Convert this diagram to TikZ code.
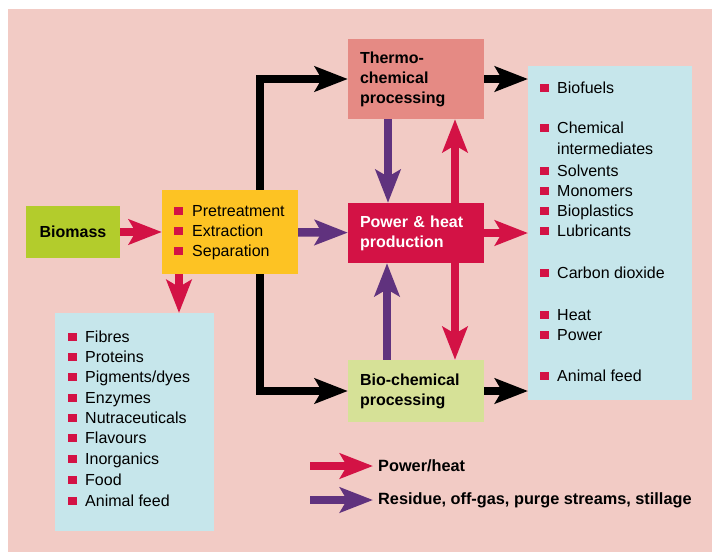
\documentclass[tikz,border=0pt]{standalone}
\usepackage{fontspec}
\setmainfont{Liberation Sans}
\usetikzlibrary{positioning,calc,arrows.meta}
\definecolor{bgpink}{HTML}{F2CBC5}
\definecolor{crim}{HTML}{D31245}
\definecolor{purp}{HTML}{60327E}
\definecolor{biogreen}{HTML}{B3CC2C}
\definecolor{preorange}{HTML}{FDC323}
\definecolor{salmon}{HTML}{E58A84}
\definecolor{palegreen}{HTML}{D6E197}
\definecolor{paleblue}{HTML}{C6E6EB}
\tikzset{
  box/.style  ={rectangle, draw=none, inner sep=0pt, font=\fontsize{16}{20}\selectfont\bfseries},
  proc/.style ={box, minimum width=136pt, text width=112pt, align=left},
  lst/.style  ={rectangle, draw=none, inner sep=0pt, anchor=north west},
  item/.style ={anchor=west, inner sep=0pt, text height=11.5pt, text depth=0pt, font=\fontsize{16}{20}\selectfont},
  bul/.style  ={rectangle, fill=crim, minimum size=8.5pt, inner sep=0pt},
  fl/.style   ={line width=8.5pt, -{Stealth[length=33pt, width=25pt, inset=7pt]}},
  fr/.style   ={fl, draw=crim},
  fp/.style   ={fl, draw=purp},
  fb/.style   ={fl, draw=black},
  lgl/.style  ={anchor=west, inner sep=5pt, font=\fontsize{16.3}{20}\selectfont\bfseries},
}

\begin{document}
\begin{tikzpicture}[x=1pt, y=-1pt]
\useasboundingbox (0,0) rectangle (712,552);
\fill[bgpink] (8,9) rectangle (712,552);
%% ---------- process boxes ----------
\node[box, fill=biogreen, minimum width=94pt, minimum height=52pt] (bio) at (73,232) {Biomass};
\node[box, fill=preorange, minimum width=136pt, minimum height=84pt] (pre) at (230,232) {};
\node[proc, fill=salmon, minimum height=80pt] (thermo) at (416,79) {Thermo-\\chemical\\processing};
\node[proc, fill=crim, text=white, minimum height=60pt] (power) at (416,233) {Power \& heat\\production};
\node[proc, fill=palegreen, minimum height=62pt] (biochem) at (416,391) {Bio-chemical\\processing};
%% ---------- product lists ----------
\node[lst, fill=paleblue, minimum width=164pt, minimum height=334pt] (rlist) at (528,66) {};
\node[lst, fill=paleblue, minimum width=159pt, minimum height=218pt] (llist) at (55,313) {};
% pretreatment steps
\foreach \y/\t [count=\i] in {211/Pretreatment, 231/Extraction, 251/Separation} {
  \node[bul] (pb\i) at (178.5,\y) {};
  \node[item] (pi\i) at (192,\y) {\t};
}
% right list
\foreach \y/\t [count=\i] in {88/Biofuels, 128/Chemical, 171/Solvents, 191/Monomers,
    211/Bioplastics, 231/Lubricants, 273/Carbon dioxide, 315/Heat, 335/Power, 376/Animal feed} {
  \node[bul] (rb\i) at (544.5,\y) {};
  \node[item] (ri\i) at (557,\y) {\t};
}
\node[item] (ri2b) at (557,149) {intermediates};
% left list
\foreach \y/\t [count=\i] in {337/Fibres, 357/Proteins, 377/{Pigments/dyes}, 398/Enzymes,
    418/Nutraceuticals, 438/Flavours, 459/Inorganics, 480/Food, 501/Animal feed} {
  \node[bul] (lb\i) at (72.5,\y) {};
  \node[item] (li\i) at (85,\y) {\t};
}
%% ---------- flows ----------
\draw[fr] (bio) -- (pre);
\draw[fp] (pre) -- (power);
\draw[fr] ([xshift=-51pt]pre.south) -- ([xshift=-51pt]pre.south |- llist.north);
\draw[fb] ([xshift=30pt]pre.north) |- (thermo.west);
\draw[fb] ([xshift=30pt]pre.south) |- (biochem.west);
\draw[fb] (thermo.east) -- (thermo.east -| rlist.west);
\draw[fr] (power.east) -- (power.east -| rlist.west);
\draw[fb] (biochem.east) -- (biochem.east -| rlist.west);
\draw[fp] ([xshift=-28pt]thermo.south) -- ([xshift=-28pt]power.north);
\draw[fr] ([xshift=39pt]power.north) -- ([xshift=39pt]thermo.south);
\draw[fp] ([xshift=-29pt]biochem.north) -- ([xshift=-29pt]power.south);
\draw[fr] ([xshift=39pt]power.south) -- ([xshift=39pt]biochem.north);
%% ---------- legend ----------
\coordinate (lg1) at (310,466);
\coordinate (lg2) at (310,500);
\node[lgl] (lgt1) at (373,466) {Power/heat};
\node[lgl] (lgt2) at (373,500) {Residue, off-gas, purge streams, stillage};
\draw[fr] (lg1) -- (lgt1.west);
\draw[fp] (lg2) -- (lgt2.west);
\end{tikzpicture}
\end{document}
